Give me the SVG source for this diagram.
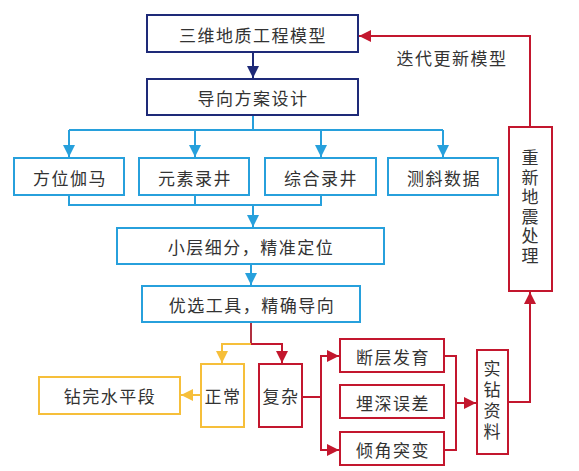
<svg xmlns="http://www.w3.org/2000/svg" width="579" height="471" viewBox="0 0 579 471">
<defs>
<marker id="aN" markerUnits="userSpaceOnUse" markerWidth="12" markerHeight="12" refX="12" refY="6" orient="auto"><path d="M0,0 L12,6 L0,12 z" fill="#1e2a78"/></marker>
<marker id="aB" markerUnits="userSpaceOnUse" markerWidth="12" markerHeight="12" refX="12" refY="6" orient="auto"><path d="M0,0 L12,6 L0,12 z" fill="#27a0dc"/></marker>
<marker id="aY" markerUnits="userSpaceOnUse" markerWidth="12" markerHeight="12" refX="12" refY="6" orient="auto"><path d="M0,0 L12,6 L0,12 z" fill="#f6bf3a"/></marker>
<marker id="aR" markerUnits="userSpaceOnUse" markerWidth="12" markerHeight="12" refX="12" refY="6" orient="auto"><path d="M0,0 L12,6 L0,12 z" fill="#c3172e"/></marker>
</defs>
<style>
rect{fill:#fff;stroke-width:2}
.n rect{stroke:#1e2a78}
.b rect{stroke:#27a0dc}
.y rect{stroke:#f6bf3a}
.r rect{stroke:#c3172e}
text{font-family:"Noto Sans CJK SC",sans-serif;font-size:17px;fill:#333;text-anchor:middle;dominant-baseline:central;letter-spacing:1.5px}
text.v{writing-mode:vertical-rl;font-size:17px}
.c path{fill:none;stroke-width:2}
</style>
<rect x="0" y="0" width="579" height="471" style="fill:#fff;stroke:none"/>
<g class="c" id="connectors">
<path d="M253,52 V78" stroke="#1e2a78" marker-end="url(#aN)"/>
<path d="M253,115 V130 H69" stroke="#27a0dc"/>
<path d="M253,130 H443" stroke="#27a0dc"/>
<path d="M69,130 V157" stroke="#27a0dc" marker-end="url(#aB)"/>
<path d="M195,130 V157" stroke="#27a0dc" marker-end="url(#aB)"/>
<path d="M321,130 V157" stroke="#27a0dc" marker-end="url(#aB)"/>
<path d="M443,130 V157" stroke="#27a0dc" marker-end="url(#aB)"/>
<path d="M69,195 V205 H321 V195" stroke="#27a0dc"/>
<path d="M195,195 V205" stroke="#27a0dc"/>
<path d="M253,205 V227" stroke="#27a0dc" marker-end="url(#aB)"/>
<path d="M251,264 V285" stroke="#27a0dc" marker-end="url(#aB)"/>
<path d="M251,322 V344" stroke="#b03040"/>
<path d="M251,344 H222 V363" stroke="#f6bf3a" marker-end="url(#aY)"/>
<path d="M251,344 H282 V363" stroke="#c3172e" marker-end="url(#aR)"/>
<path d="M201,395 H181" stroke="#f6bf3a" marker-end="url(#aY)"/>
<path d="M302,397 H321" stroke="#c3172e"/>
<path d="M321,397 V356 H339" stroke="#c3172e" marker-end="url(#aR)"/>
<path d="M321,397 V450 H339" stroke="#c3172e" marker-end="url(#aR)"/>
<path d="M444,356 H456 V450 H444" stroke="#c3172e"/>
<path d="M456,403 H476" stroke="#c3172e" marker-end="url(#aR)"/>
<path d="M508,402 H530 V292" stroke="#c3172e" marker-end="url(#aR)"/>
<path d="M530,127 V36 H359" stroke="#c3172e" marker-end="url(#aR)"/>
<text x="452" y="57">迭代更新模型</text>
</g>
<g id="n1" class="n"><rect x="147" y="15" width="211" height="37"/><text x="253" y="34">三维地质工程模型</text></g>
<g id="n2" class="n"><rect x="147" y="79" width="211" height="36"/><text x="253" y="97">导向方案设计</text></g>
<g id="n3" class="b"><rect x="14" y="158" width="110" height="37"/><text x="70" y="177">方位伽马</text></g>
<g id="n4" class="b"><rect x="139" y="158" width="110" height="37"/><text x="195" y="177">元素录井</text></g>
<g id="n5" class="b"><rect x="265" y="158" width="111" height="37"/><text x="321" y="177">综合录井</text></g>
<g id="n6" class="b"><rect x="388" y="158" width="110" height="37"/><text x="444" y="177">测斜数据</text></g>
<g id="n7" class="b"><rect x="117" y="228" width="267" height="36"/><text x="251" y="246">小层细分，精准定位</text></g>
<g id="n8" class="b"><rect x="142" y="286" width="218" height="36"/><text x="252" y="304">优选工具，精确导向</text></g>
<g id="n9" class="y"><rect x="201" y="364" width="43" height="63"/><text x="223" y="395">正常</text></g>
<g id="n10" class="y"><rect x="39" y="377" width="141" height="37"/><text x="110" y="395">钻完水平段</text></g>
<g id="n11" class="r"><rect x="259" y="364" width="43" height="63"/><text x="281" y="395">复杂</text></g>
<g id="n12" class="r"><rect x="340" y="339" width="104" height="33"/><text x="393" y="356">断层发育</text></g>
<g id="n13" class="r"><rect x="340" y="385" width="104" height="33"/><text x="393" y="402">埋深误差</text></g>
<g id="n14" class="r"><rect x="340" y="432" width="104" height="33"/><text x="393" y="449">倾角突变</text></g>
<g id="n15" class="r"><rect x="477" y="350" width="31" height="104"/>
<text class="v" x="492" y="402" style="letter-spacing:4px">实钻资料</text></g>
<g id="n16" class="r"><rect x="509" y="127" width="43" height="164"/>
<text class="v" x="530" y="208" style="letter-spacing:2.5px">重新地震处理</text></g>
</svg>
